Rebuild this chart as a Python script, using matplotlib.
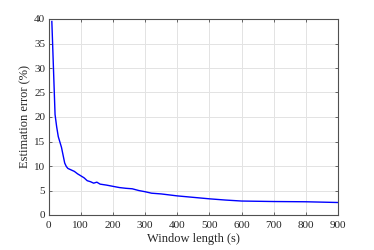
import numpy as np
import matplotlib.pyplot as plt

window_length = [10, 20, 25, 30, 40, 50, 55, 60, 70, 80, 90, 100, 110, 120, 130, 140, 150, 160,
                 180, 200, 220, 240, 260, 280, 300, 320, 350, 400, 450, 500, 550, 600, 700, 800, 900]
est_error = [39.5, 20.5, 18.0, 16.0, 13.8, 10.6, 9.9, 9.5, 9.2, 8.9, 8.4, 8.0, 7.6, 7.0, 6.8, 6.5, 6.7, 6.3,
             6.1, 5.85, 5.6, 5.45, 5.35, 5.0, 4.75, 4.45, 4.3, 3.9, 3.6, 3.3, 3.05, 2.85, 2.75, 2.7, 2.55]

plt.rcParams['font.family'] = ['Liberation Serif', 'DejaVu Serif']

fig = plt.figure(figsize=(3.74, 2.5), dpi=100)
ax = fig.add_axes([0.13, 0.14, 0.774, 0.784])

ax.plot(window_length, est_error, color=(0, 0, 1), linewidth=1.0)

ax.set_xlim(0, 900)
ax.set_ylim(0, 40)
ax.set_xticks(np.arange(0, 901, 100))
ax.set_yticks(np.arange(0, 41, 5))
ax.grid(True, color='#e3e3e3', linewidth=0.7)
ax.set_axisbelow(True)

for s in ax.spines.values():
    s.set_color('#505050')
    s.set_linewidth(0.8)
ax.tick_params(direction='in', top=True, right=True, length=2.5, width=0.6,
               color='#505050', labelcolor='#262626', labelsize=8)
ax.tick_params(axis='x', pad=4)
ax.tick_params(axis='y', pad=2.5)

ax.set_xlabel('Window length (s)', fontsize=9, color='#262626', labelpad=2.5)
ax.set_ylabel('Estimation error (%)', fontsize=9, color='#262626', labelpad=2)

fig.savefig('out.png', dpi=100)
